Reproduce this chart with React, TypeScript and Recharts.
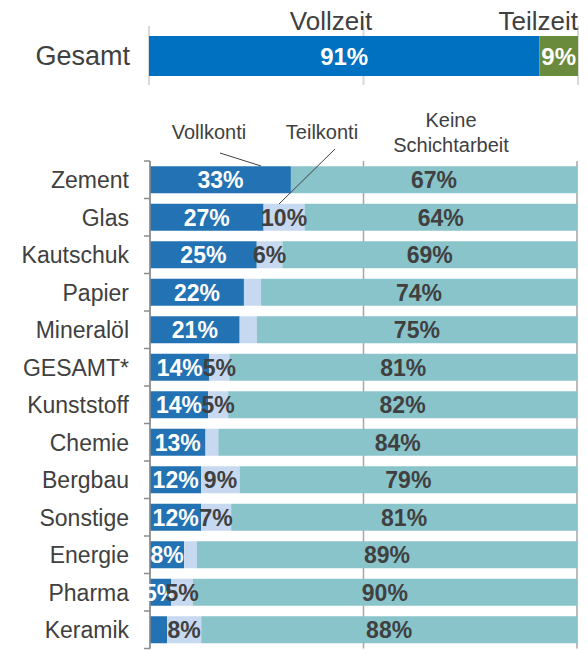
import React from "react";
import { BarChart, Bar, XAxis, YAxis, CartesianGrid, LabelList } from "recharts";

const FONT = '"Liberation Sans", Arial, sans-serif';
const TEXT = "#404040";

// Gesamt: Vollzeit / Teilzeit
const gesamtCategory = ["Gesamt"];
const vollzeit = [91];
const teilzeit = [9];

// Schichtarbeit nach Branche
const branchen = [
  "Zement", "Glas", "Kautschuk", "Papier", "Mineralöl", "GESAMT*", "Kunststoff",
  "Chemie", "Bergbau", "Sonstige", "Energie", "Pharma", "Keramik"
];
const vollkonti = [33, 26.6, 25, 22, 21, 13.9, 13.6, 13, 12, 12, 8, 5, 4];
const teilkonti = [0, 9.6, 6, 4, 4, 4.7, 4.7, 3, 9, 7, 3, 5, 8];
const keineSchicht = [67, 63.8, 69, 74, 75, 81.4, 81.7, 84, 79, 81, 89, 90, 88];
const pctTicks = [0, 50, 100];

const topData = gesamtCategory.map((name, i) => ({ name, vollzeit: vollzeit[i], teilzeit: teilzeit[i] }));
const rows = branchen.map((name, i) => ({
  name,
  vollkonti: vollkonti[i],
  teilkonti: teilkonti[i],
  keine: keineSchicht[i]
}));

// bottom chart geometry
const CHART_TOP = 161;
const CHART_BOTTOM = 1.5;
const CHART_H = 650;
const BAND = (CHART_H - CHART_TOP - CHART_BOTTOM) / branchen.length;
const TICK_MARGIN = 15;
const TICK_SIZE = 6;

// small segments (< 5% after rounding) get no label
const makeLabel = (fill: string, min: number, size: number) => (props: any) => {
  const { x, y, width, height, value } = props;
  const shown = Math.round(value);
  if (shown < min) return null;
  return (
    <text
      x={x + width / 2}
      y={y + height / 2}
      dy="0.36em"
      textAnchor="middle"
      fill={fill}
      fontSize={size}
      fontWeight="bold"
      fontFamily={FONT}
    >
      {shown}%
    </text>
  );
};

const BranchTick = (props: any) => {
  const { x, y, payload, index } = props;
  const axisX = x + TICK_MARGIN + TICK_SIZE;
  return (
    <g>
      <line x1={axisX - TICK_SIZE} x2={axisX} y1={y - BAND / 2} y2={y - BAND / 2} stroke="#8c8c8c" strokeWidth={1.5} />
      {index === branchen.length - 1 && (
        <line x1={axisX - TICK_SIZE} x2={axisX} y1={y + BAND / 2} y2={y + BAND / 2} stroke="#8c8c8c" strokeWidth={1.5} />
      )}
      <text x={x} y={y} dy="0.36em" textAnchor="end" fill={TEXT} fontSize={23} fontFamily={FONT}>
        {payload.value}
      </text>
    </g>
  );
};

export default function App() {
  return (
    <div style={{ position: "absolute", left: 0, top: 0, width: 588, height: 650, background: "#fff", fontFamily: FONT }}>
      <div style={{ position: "absolute", left: 0, top: 0 }}>
        <BarChart
          width={588}
          height={95}
          data={topData}
          layout="vertical"
          margin={{ top: 26, right: 10, bottom: 10, left: 0 }}
          barSize={40}
        >
          <CartesianGrid horizontal={false} stroke="#d9d9d9" strokeWidth={2} />
          <XAxis type="number" domain={[0, 100]} ticks={pctTicks} hide />
          <YAxis
            type="category"
            dataKey="name"
            width={149}
            axisLine={false}
            tickLine={false}
            tickMargin={13}
            tick={{ fill: TEXT, fontSize: 27, fontFamily: FONT }}
          />
          <Bar dataKey="vollzeit" stackId="g" fill="#0070C0" isAnimationActive={false}>
            <LabelList dataKey="vollzeit" content={makeLabel("#ffffff", 0, 24)} />
          </Bar>
          <Bar dataKey="teilzeit" stackId="g" fill="#6A8A3C" isAnimationActive={false}>
            <LabelList dataKey="teilzeit" content={makeLabel("#ffffff", 0, 24)} />
          </Bar>
        </BarChart>
      </div>

      <div style={{ position: "absolute", left: 0, top: 0 }}>
        <BarChart
          width={588}
          height={CHART_H}
          data={rows}
          layout="vertical"
          margin={{ top: CHART_TOP, right: 11, bottom: CHART_BOTTOM, left: 0 }}
          barCategoryGap="14%"
        >
          <CartesianGrid horizontal={false} stroke="#a6a6a6" strokeWidth={1.5} />
          <XAxis type="number" domain={[0, 100]} ticks={pctTicks} hide />
          <YAxis
            type="category"
            dataKey="name"
            width={150}
            axisLine={{ stroke: "#8c8c8c", strokeWidth: 1.5 }}
            tickLine={false}
            tickSize={TICK_SIZE}
            tickMargin={TICK_MARGIN}
            tick={<BranchTick />}
            interval={0}
          />
          <Bar dataKey="vollkonti" stackId="s" fill="#2272B4" isAnimationActive={false}>
            <LabelList dataKey="vollkonti" content={makeLabel("#ffffff", 5, 23)} />
          </Bar>
          <Bar dataKey="teilkonti" stackId="s" fill="#C6D9F1" isAnimationActive={false}>
            <LabelList dataKey="teilkonti" content={makeLabel(TEXT, 5, 23)} />
          </Bar>
          <Bar dataKey="keine" stackId="s" fill="#8AC4CB" isAnimationActive={false}>
            <LabelList dataKey="keine" content={makeLabel(TEXT, 0, 23)} />
          </Bar>
        </BarChart>
      </div>

      {/* series headers and leader lines */}
      <svg width={588} height={650} style={{ position: "absolute", left: 0, top: 0, pointerEvents: "none" }}>
        <g fontFamily={FONT} fill={TEXT}>
          <text x={331} y={30} fontSize={26} textAnchor="middle">Vollzeit</text>
          <text x={578} y={30} fontSize={26} textAnchor="end">Teilzeit</text>
          <text x={209} y={139} fontSize={20} textAnchor="middle">Vollkonti</text>
          <text x={322} y={139} fontSize={20} textAnchor="middle">Teilkonti</text>
          <text x={451} y={127} fontSize={20} textAnchor="middle">Keine</text>
          <text x={451} y={152} fontSize={20} textAnchor="middle">Schichtarbeit</text>
        </g>
        <line x1={220} y1={153} x2={261} y2={166} stroke={TEXT} strokeWidth={1} />
        <line x1={335} y1={149} x2={279} y2={204} stroke={TEXT} strokeWidth={1} />
      </svg>
    </div>
  );
}
